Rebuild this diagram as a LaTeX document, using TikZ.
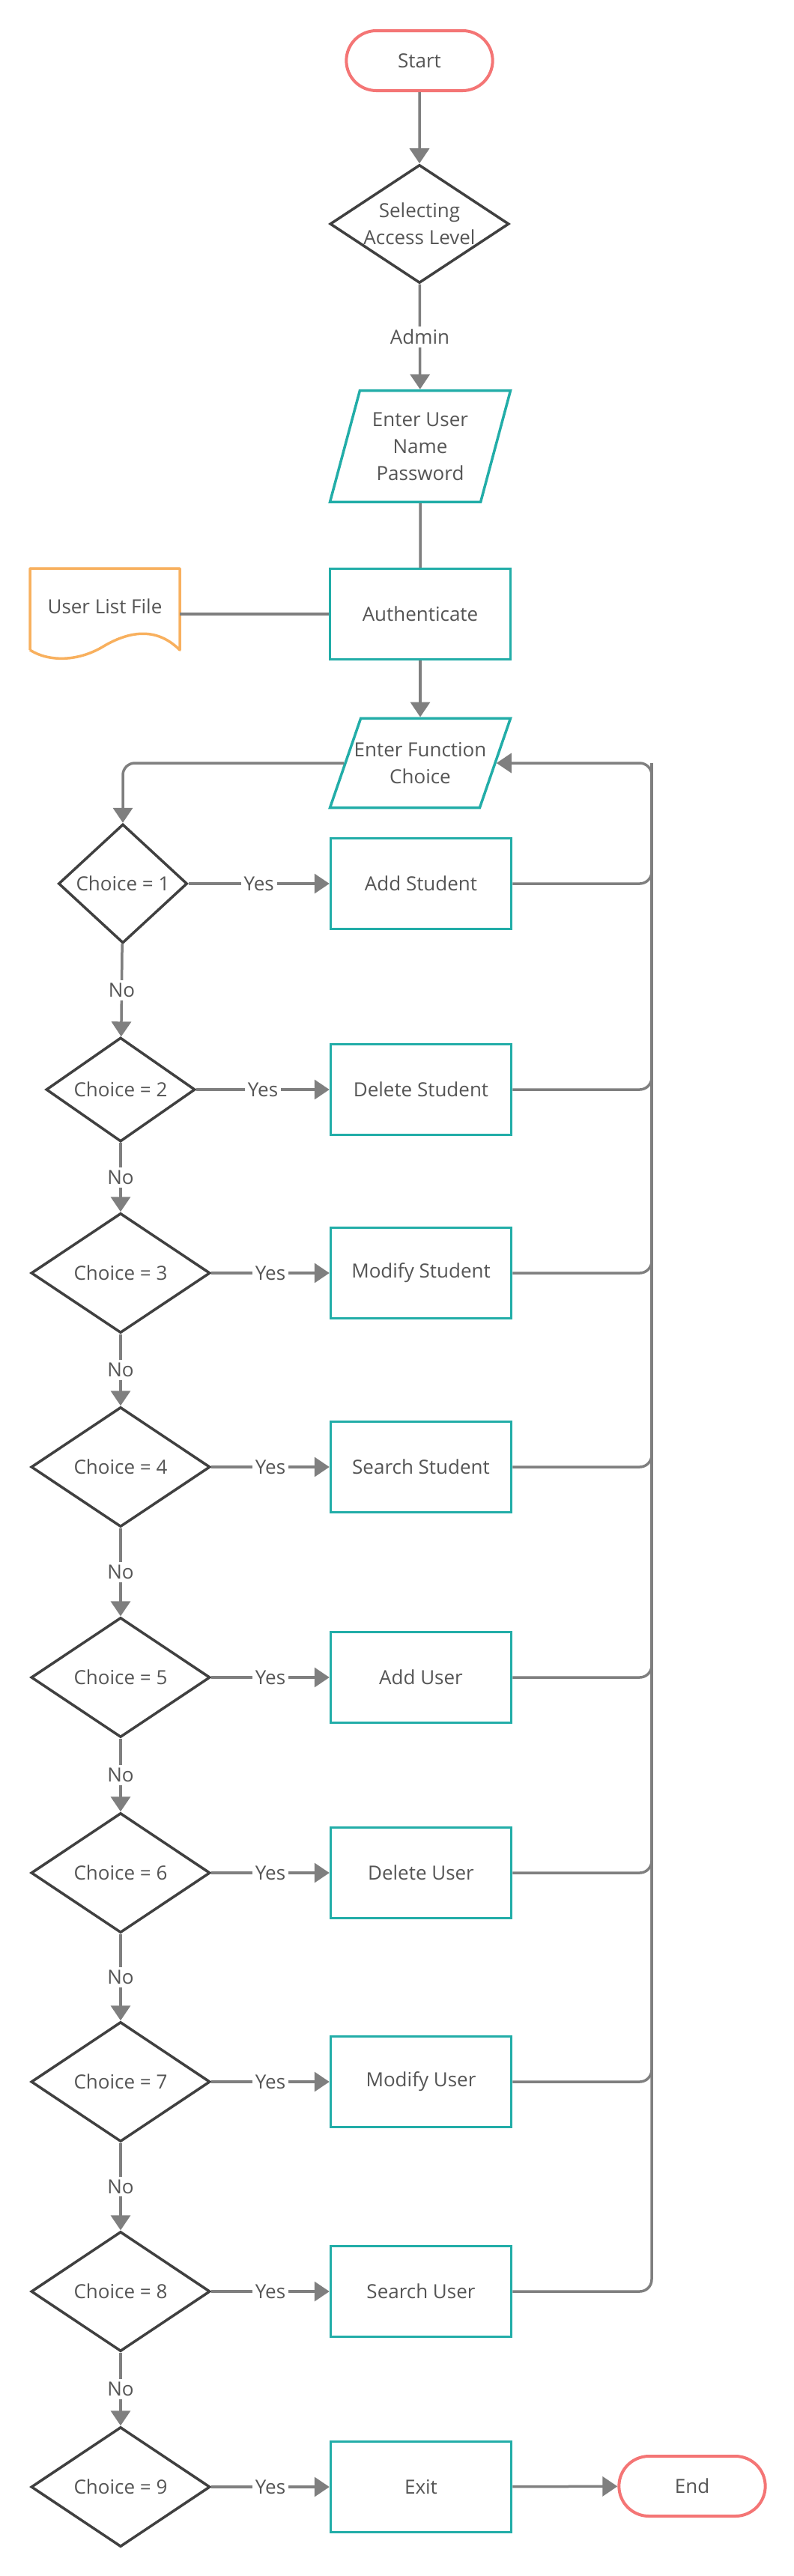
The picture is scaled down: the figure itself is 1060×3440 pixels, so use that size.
\documentclass[tikz,border=0pt]{standalone}
\usepackage{fontspec}
\setmainfont{Open Sans}
\usetikzlibrary{shapes.geometric,shapes.misc,arrows.meta,positioning}
\definecolor{termred}{HTML}{F47575}
\definecolor{boxteal}{HTML}{22ADA8}
\definecolor{docorange}{HTML}{F8B05E}
\definecolor{linegray}{HTML}{7F7F7F}
\definecolor{decgray}{HTML}{404040}
\definecolor{txtgray}{HTML}{555555}

\begin{document}
\begin{tikzpicture}[x=1pt,y=-1pt,>={Triangle[length=20pt,width=26pt]},
		font=\fontsize{26}{36}\selectfont,text=txtgray,
		conn/.style={color=linegray,line width=3.5pt},
		term/.style={rounded rectangle,draw=termred,line width=4pt,minimum width=202pt,minimum height=80pt},
		decision/.style={diamond,draw=decgray,line width=3.5pt,aspect=1.5,inner sep=-6pt,minimum width=239pt,minimum height=160pt,align=center},
		proc/.style={rectangle,draw=boxteal,line width=3.5pt,minimum width=241pt,minimum height=121pt,align=center},
		io/.style={trapezium,trapezium stretches body,draw=boxteal,line width=3.5pt,inner xsep=0pt,minimum width=241pt,align=center},
		lbl/.style={fill=white,text=txtgray,inner sep=4pt}]
		\fill[white] (0,0) rectangle (1060,3440);
		\useasboundingbox (0,0) rectangle (1060,3440);
		% login part
		\node[term] (start) at (560,81) {Start};
		\node[decision,minimum height=158pt] (sel) at (560,299) {Selecting\\Access Level};
		\node[io,inner ysep=29pt,trapezium left angle=75,trapezium right angle=105] (login) at (561,596) {Enter User\\Name\\Password};
		\node[proc] (auth) at (561,820) {Authenticate};
		\node[minimum width=200pt] (ulf) at (140,810) {User List File};
		\draw[docorange,line width=3.5pt,line join=round] (40,868) -- (40,759) -- (240,759) -- (240,868)
			.. controls (210,838) and (175,842) .. (140,862)
			.. controls (105,884) and (65,884) .. (40,868);
		\node[io,inner ysep=32pt,inner xsep=-10pt,trapezium left angle=71,trapezium right angle=109] (efc) at (561,1019) {Enter Function\\Choice};
		% choices
		\node[decision,minimum width=172pt,minimum height=159pt] (c1) at (164,1180) {Choice = 1};
		\node[decision,minimum width=199pt,minimum height=139pt] (c2) at (161,1455) {Choice = 2};
		\node[decision] (c3) at (161,1700) {Choice = 3};
		\node[decision] (c4) at (161,1959) {Choice = 4};
		\node[decision] (c5) at (161,2240) {Choice = 5};
		\node[decision] (c6) at (161,2501) {Choice = 6};
		\node[decision] (c7) at (161,2780) {Choice = 7};
		\node[decision] (c8) at (161,3060) {Choice = 8};
		\node[decision] (c9) at (161,3321) {Choice = 9};
		\node[proc] (b1) at (562,1180) {Add Student};
		\node[proc] (b2) at (562,1455) {Delete Student};
		\node[proc] (b3) at (562,1700) {Modify Student};
		\node[proc] (b4) at (562,1959) {Search Student};
		\node[proc] (b5) at (562,2240) {Add User};
		\node[proc] (b6) at (562,2501) {Delete User};
		\node[proc] (b7) at (562,2780) {Modify User};
		\node[proc] (b8) at (562,3060) {Search User};
		\node[proc] (b9) at (562,3321) {Exit};
		\node[term] (fin) at (924,3320) {End};
		\coordinate (rtop) at (870,1019);
		% connectors
		\path[conn,->]
		(start) edge (sel)
		(sel) edge node[lbl] {Admin} (login)
		(auth) edge (efc)
		(c1) edge node[lbl] {Yes} (b1)
		(c2) edge node[lbl] {Yes} (b2)
		(c3) edge node[lbl] {Yes} (b3)
		(c4) edge node[lbl] {Yes} (b4)
		(c5) edge node[lbl] {Yes} (b5)
		(c6) edge node[lbl] {Yes} (b6)
		(c7) edge node[lbl] {Yes} (b7)
		(c8) edge node[lbl] {Yes} (b8)
		(c9) edge node[lbl] {Yes} (b9)
		(c1) edge node[lbl] {No} (c2)
		(c2) edge node[lbl] {No} (c3)
		(c3) edge node[lbl] {No} (c4)
		(c4) edge node[lbl] {No} (c5)
		(c5) edge node[lbl] {No} (c6)
		(c6) edge node[lbl] {No} (c7)
		(c7) edge node[lbl] {No} (c8)
		(c8) edge node[lbl] {No} (c9)
		(b9) edge (fin);
		\path[conn]
		(login) edge (auth)
		(ulf.east |- auth.west) edge (auth.west);
		\draw[conn,rounded corners=16pt] (b1.east) -| (rtop);
		\draw[conn,rounded corners=16pt] (b2.east) -| (rtop);
		\draw[conn,rounded corners=16pt] (b3.east) -| (rtop);
		\draw[conn,rounded corners=16pt] (b4.east) -| (rtop);
		\draw[conn,rounded corners=16pt] (b5.east) -| (rtop);
		\draw[conn,rounded corners=16pt] (b6.east) -| (rtop);
		\draw[conn,rounded corners=16pt] (b7.east) -| (rtop);
		\draw[conn,->,rounded corners=16pt] (b8.east) -| (rtop) -- (efc);
		\draw[conn,->,rounded corners=16pt] (efc) -| (c1.north);
\end{tikzpicture}
\end{document}
